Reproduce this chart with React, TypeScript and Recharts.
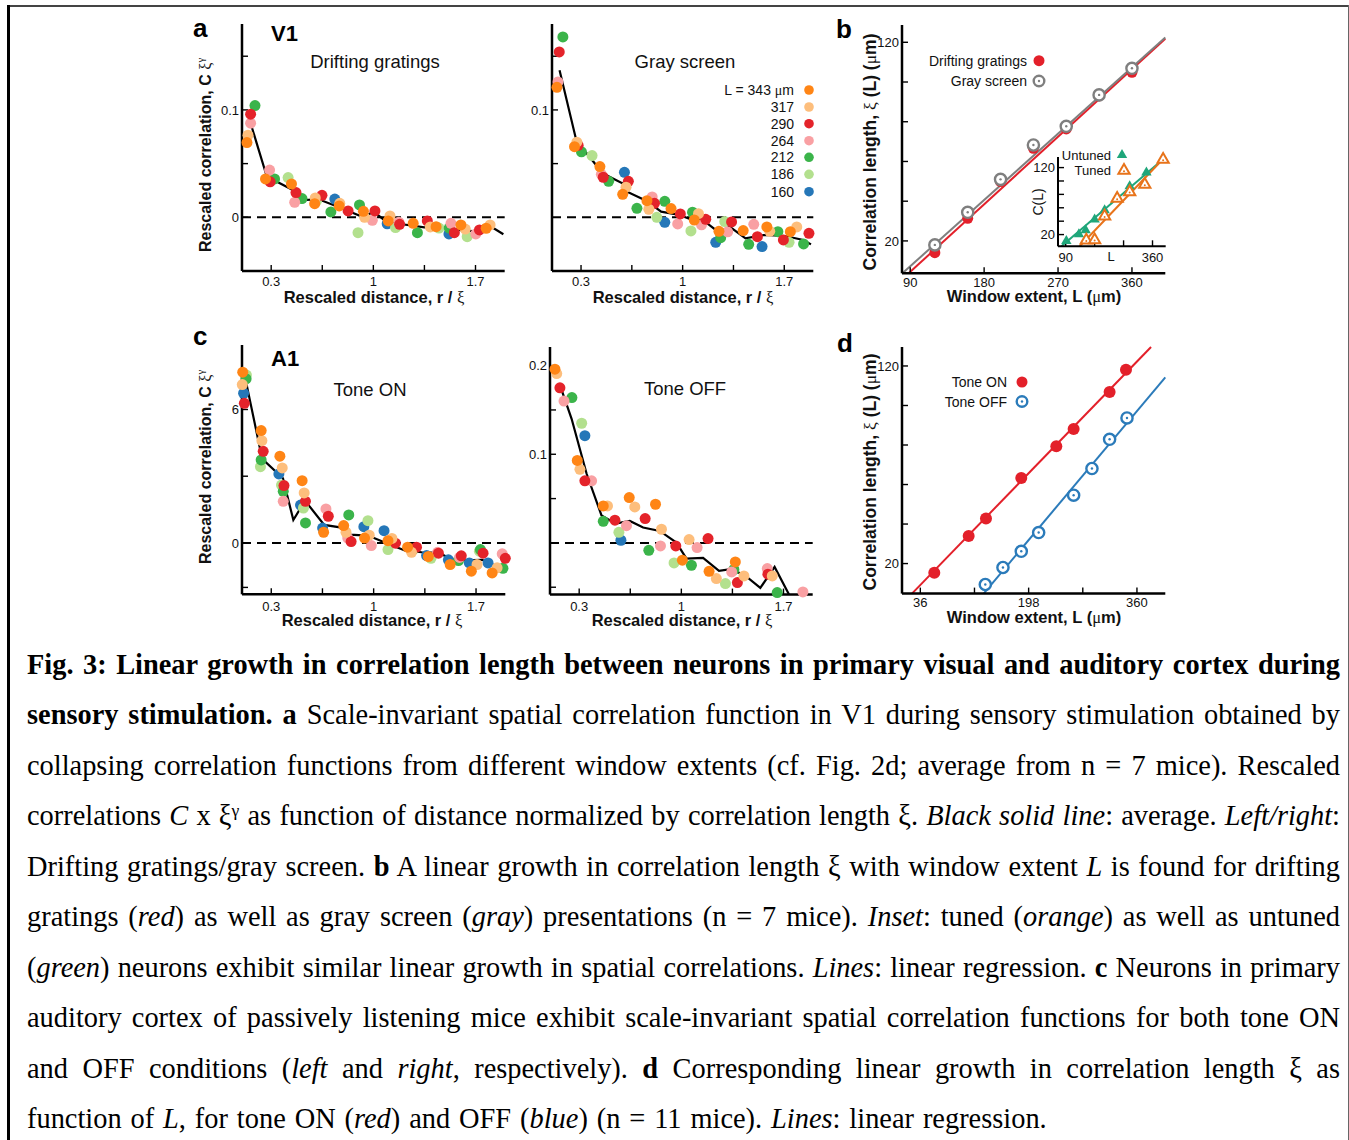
import React from 'react';
import { ComposedChart, Scatter, Line, XAxis, YAxis, ReferenceLine } from 'recharts';

type P = [number, number];

const FONT = '"Liberation Sans", Arial, Helvetica, sans-serif';
const SERIF = '"Liberation Serif", "Times New Roman", serif';

// ---- legend values (window extents) and colours ----
const L_LABELS = ['343', '317', '290', '264', '212', '186', '160'];
const L_COLORS = ['#FF8515', '#FDBE7C', '#E4232A', '#F9A0A3', '#3BB44A', '#B3E08E', '#2577B8'];

// ---- panel a, left: V1 drifting gratings ----
const A1_343: P[] = [[0.134,0.0696],[0.261,0.0357],[0.439,0.031],[0.598,0.0127],[0.766,0.0106],[0.932,0.0056],[1.102,-0.0034],[1.273,-0.0056],[1.43,-0.0087],[1.6,-0.0071],[1.773,-0.0102]];
const A1_317: P[] = [[0.141,0.0764],[0.602,0.018],[0.77,0.013],[0.94,0.0],[1.114,0.0012],[1.39,-0.009],[1.63,-0.011],[1.8,-0.0071]];
const A1_290: P[] = [[0.159,0.096],[0.293,0.033],[0.47,0.023],[0.648,0.0205],[0.827,0.0059],[1.011,0.0059],[1.18,-0.0065],[1.37,-0.0034],[1.555,-0.0143],[1.727,-0.0118]];
const A1_264: P[] = [[0.159,0.0876],[0.289,0.044],[0.461,0.014],[0.993,-0.0028],[1.175,-0.0045],[1.532,-0.0056],[1.702,-0.0155]];
const A1_212: P[] = [[0.189,0.104],[0.323,0.0357],[0.511,0.0174],[0.709,0.005],[0.905,0.0115],[1.302,-0.0143],[1.52,-0.01]];
const A1_186: P[] = [[0.416,0.037],[0.61,0.015],[0.895,-0.0143],[1.152,-0.0096],[1.45,-0.01],[1.643,-0.018]];
const A1_160: P[] = [[0.736,0.017],[1.095,-0.006],[1.518,-0.0155]];
const A1_MEAN: P[] = [[0.159,0.0876],[0.27,0.0379],[0.448,0.0255],[0.516,0.0161],[0.625,0.0168],[0.766,0.0093],[0.932,0],[1.002,0.0053],[1.095,-0.0047],[1.198,-0.0065],[1.35,-0.0093],[1.436,-0.0078],[1.539,-0.0112],[1.72,-0.0134],[1.8,-0.0081],[1.891,-0.0158]];

// ---- panel a, right: V1 gray screen ----
const A2_343: P[] = [[0.134,0.121],[0.255,0.0658],[0.43,0.0472],[0.587,0.0214],[0.754,0.0155],[0.92,0.0081],[1.08,-0.0025],[1.25,-0.013],[1.417,-0.0124],[1.58,-0.009],[1.742,-0.0134]];
const A2_317: P[] = [[0.271,0.07],[0.61,0.028],[0.767,0.0075],[1.109,0.0034],[1.6,-0.013],[1.786,-0.009]];
const A2_290: P[] = [[0.15,0.154],[0.28,0.067],[0.453,0.0373],[0.626,0.0335],[0.806,0.013],[0.984,0.0031],[1.159,-0.0019],[1.337,-0.0043],[1.515,-0.018],[1.694,-0.0211],[1.87,-0.0149]];
const A2_264: P[] = [[0.141,0.126],[0.44,0.04],[0.79,0.019],[0.966,-0.0062],[1.13,-0.007],[1.31,-0.0135],[1.49,-0.0065]];
const A2_212: P[] = [[0.175,0.168],[0.303,0.061],[0.49,0.0335],[0.685,0.0084],[0.877,0.0149],[1.068,0.0047],[1.262,-0.019],[1.455,-0.0252],[1.656,-0.0134],[1.833,-0.0248]];
const A2_186: P[] = [[0.376,0.0575],[0.822,0.0],[1.057,-0.0127],[1.29,-0.004],[1.733,-0.0233]];
const A2_160: P[] = [[0.599,0.0419],[0.877,-0.0047],[1.228,-0.0233],[1.547,-0.0273]];
const A2_MEAN: P[] = [[0.152,0.137],[0.275,0.0674],[0.339,0.0596],[0.449,0.041],[0.585,0.0317],[0.617,0.0239],[0.749,0.0155],[0.852,0.0053],[0.977,0.0022],[1.08,-0.0031],[1.125,-0.001],[1.25,-0.014],[1.323,-0.0087],[1.433,-0.0196],[1.558,-0.0165],[1.706,-0.0174],[1.831,-0.0211],[1.884,-0.0252]];

// ---- panel c, left: A1 tone ON ----
const C1_343: P[] = [[0.105,7.68],[0.231,5.05],[0.359,3.9],[0.511,2.8],[0.658,0.48],[0.795,0.78],[0.938,0.22],[1.098,0.1],[1.232,-0.19],[1.374,-0.61],[1.523,-0.97],[1.668,-1.27],[1.81,-1.35]];
const C1_317: P[] = [[0.102,7.12],[0.236,4.6],[0.375,3.37],[0.525,2.25],[0.811,0.48],[0.97,0.35],[1.125,0.2],[1.259,-0.42],[1.707,-0.97],[1.844,-1.12]];
const C1_290: P[] = [[0.116,6.28],[0.245,4.12],[0.387,2.58],[0.534,1.87],[0.69,1.2],[0.846,0.06],[1.149,-0.01],[1.293,-0.19],[1.443,-0.46],[1.599,-0.58],[1.748,-0.46],[1.9,-0.69]];
const C1_264: P[] = [[0.382,1.87],[0.674,1.53],[0.823,0.22],[0.984,-0.12],[1.437,-0.42],[1.587,-0.65],[1.879,-0.49]];
const C1_212: P[] = [[0.128,7.38],[0.231,3.73],[0.382,2.32],[0.534,0.9],[0.83,1.26],[1.27,-0.3],[1.58,-0.79],[1.73,-0.3],[1.884,-1.14]];
const C1_186: P[] = [[0.13,7.55],[0.226,3.43],[0.37,2.6],[0.52,1.57],[0.961,1.0],[1.098,-0.3],[1.392,-0.69],[1.723,-0.37]];
const C1_160: P[] = [[0.111,6.73],[0.352,3.1],[0.5,1.7],[0.651,0.67],[0.933,0.73],[1.071,0.55],[1.362,-0.57],[1.511,-0.76],[1.654,-0.9],[1.782,-0.9]];
const C1_MEAN: P[] = [[0.128,7.23],[0.238,3.78],[0.38,2.91],[0.451,1.03],[0.531,1.9],[0.662,0.81],[0.77,0.7],[0.834,0.37],[0.961,0.33],[1.098,-0.04],[1.213,-0.34],[1.328,-0.42],[1.443,-0.45],[1.557,-0.79],[1.741,-0.76],[1.856,-1.09],[1.9,-1.05]];

// ---- panel c, right: A1 tone OFF ----
const C2_343: P[] = [[0.134,0.196],[0.287,0.093],[0.465,0.0417],[0.643,0.0511],[0.823,0.0436],[1.007,-0.0195],[1.19,-0.032],[1.37,-0.0214]];
const C2_317: P[] = [[0.146,0.191],[0.305,0.083],[0.494,0.0417],[0.681,0.0406],[0.864,0.0154],[1.053,0.0038],[1.24,-0.0402],[1.429,-0.0372],[1.623,-0.0372]];
const C2_290: P[] = [[0.168,0.175],[0.339,0.07],[0.545,0.0256],[0.752,0.0274],[0.962,-0.0034],[1.183,0.0049],[1.384,-0.0447],[1.593,-0.0353]];
const C2_264: P[] = [[0.196,0.16],[0.385,0.07],[0.624,0.0195],[0.857,-0.0034],[1.108,-0.0053],[1.345,-0.0327],[1.589,-0.029],[1.833,-0.0553]];
const C2_212: P[] = [[0.25,0.164],[0.465,0.0244],[0.777,-0.0083],[1.069,-0.0252],[1.36,-0.03],[1.657,-0.056]];
const C2_186: P[] = [[0.317,0.135],[0.572,0.012],[0.95,-0.0226],[1.302,-0.0459]];
const C2_160: P[] = [[0.339,0.121],[0.586,0.003]];
const C2_MEAN: P[] = [[0.164,0.18],[0.248,0.14],[0.351,0.078],[0.453,0.031],[0.549,0.0218],[0.647,0.0248],[0.738,0.0173],[0.852,0.0135],[0.966,0.0004],[1.035,-0.0177],[1.149,-0.0169],[1.258,-0.0316],[1.338,-0.0297],[1.434,-0.0365],[1.541,-0.0508],[1.639,-0.0271],[1.737,-0.058]];

// ---- panel b: correlation length vs window extent (V1) ----
const B_L = [120, 160, 200, 240, 280, 320, 360];
const B_DRIFT = [14.1, 31.4, 49.9, 66.6, 76.4, 93.0, 104.9];
const B_GRAY = [18.0, 34.4, 51.0, 68.3, 77.7, 93.5, 106.9];
const B_FIT_DRIFT = { slope: 0.378, intercept: -29.6 };
const B_FIT_GRAY = { slope: 0.371, intercept: -26.16 };

// inset of b: untuned / tuned neurons
const INSET_UNTUNED: P[] = [[92,10.4],[131,20.4],[152,26.4],[180,42.4],[211,56.3],[250,75.2],[289,92.1],[341,112.5],[393,133.4]];
const INSET_TUNED: P[] = [[154,11.5],[180,12],[211,47.3],[250,73.7],[289,83.6],[336,94.6],[393,131.9]];
const INSET_FIT_UNTUNED = { slope: 0.411, intercept: -29.0 };
const INSET_FIT_TUNED = { slope: 0.503, intercept: -64.7 };

// ---- panel d: A1 ----
const D_ON: P[] = [[56.9,15.4],[108.3,34],[134.2,42.8],[187,63.3],[239.4,79.4],[265.3,88.1],[319.1,106.8],[343.6,118.1]];
const D_OFF: P[] = [[133.2,9.4],[159.6,18],[187,26.2],[213,35.7],[265.3,54.6],[292.7,68.1],[319.1,82.9],[345.1,93.7]];
const D_FIT_ON = { slope: 0.349, intercept: -3.4 };
const D_FIT_OFF = { slope: 0.403, intercept: -47.9 };

// ---- axis ticks ----
const X_TICKS_R = [0.3, 0.65, 1, 1.35, 1.7];
const X_LABELS_R: Record<string, string> = { '0.3': '0.3', '1': '1', '1.7': '1.7' };
const B_X_TICKS = [90, 180, 270, 360];
const D_X_TICKS = [36, 117, 198, 279, 360];
const XI_Y_TICKS = [20, 40, 60, 80, 100, 120];

const RED = '#E3202A';
const GRAY = '#7F7F7F';
const BLUE = '#2B7BBA';
const TEAL = '#1FA67A';
const ORANGE = '#E8731A';

type Mark = 'dot' | 'ring' | 'tri' | 'triOpen';
interface SeriesDef { name: string; data: P[]; color: string; mark: Mark; r: number }
interface LineDef { name: string; data: P[]; color: string; width: number }

function Marker({ cx, cy, mark, color, r }: { cx: number; cy: number; mark: Mark; color: string; r: number }) {
  if (cx == null || cy == null || isNaN(cx) || isNaN(cy)) return null;
  if (mark === 'dot') return <circle cx={cx} cy={cy} r={r} fill={color} />;
  if (mark === 'ring')
    return (
      <g>
        <circle cx={cx} cy={cy} r={r} fill="#fff" stroke={color} strokeWidth={2.4} />
        <circle cx={cx} cy={cy} r={1.2} fill={color} />
      </g>
    );
  const pts = `${cx},${cy - r} ${cx + r * 0.866},${cy + r * 0.5} ${cx - r * 0.866},${cy + r * 0.5}`;
  if (mark === 'tri') return <polygon points={pts} fill={color} />;
  return (
    <g>
      <polygon points={pts} fill="#fff" stroke={color} strokeWidth={2} strokeLinejoin="miter" />
      <circle cx={cx} cy={cy + r * 0.1} r={1} fill={color} />
    </g>
  );
}

const toPts = (d: P[]) => d.map(([x, y]) => ({ x, y }));
// regression line segment, cut to the plotting box
const clipFit = (f: { slope: number; intercept: number }, xd: [number, number], yd: [number, number]): P[] => {
  const m = f.slope, b = f.intercept;
  const x0 = Math.max(xd[0], (yd[0] - b) / m);
  const x1 = Math.min(xd[1], (yd[1] - b) / m);
  const cy = (x: number) => Math.min(yd[1], Math.max(yd[0], m * x + b));
  return [[x0, cy(x0)], [x1, cy(x1)]];
};
const zip = (xs: number[], ys: number[]): P[] => xs.map((x, i) => [x, ys[i]] as P);

interface PanelProps {
  x: number; y: number; w: number; h: number;
  xDomain: [number, number]; yDomain: [number, number];
  xTicks: number[]; yTicks: number[];
  xLabel: (v: number) => string; yLabel: (v: number) => string;
  series: SeriesDef[]; lines: LineDef[]; linesOnTop: boolean; zero?: boolean;
  axisWidth?: number; fontSize?: number; xTickMargin?: number;
}

function Panel(p: PanelProps) {
  const ML = 60, MT = 10, MR = 10, MB = 40;
  const fs = p.fontSize ?? 13;
  const aw = p.axisWidth ?? 2.5;
  const sc = p.series.map((s) => (
    <Scatter
      key={'s' + s.name}
      name={s.name}
      data={toPts(s.data)}
      fill={s.color}
      isAnimationActive={false}
      shape={(props: any) => <Marker cx={props.cx} cy={props.cy} mark={s.mark} color={s.color} r={s.r} />}
    />
  ));
  const ln = p.lines.map((l) => (
    <Line
      key={'l' + l.name}
      data={toPts(l.data)}
      dataKey="y"
      type="linear"
      stroke={l.color}
      strokeWidth={l.width}
      dot={false}
      activeDot={false}
      isAnimationActive={false}
    />
  ));
  return (
    <div style={{ position: 'absolute', left: p.x - ML, top: p.y - MT }}>
      <ComposedChart width={p.w + ML + MR} height={p.h + MT + MB} margin={{ top: MT, right: MR, left: 20, bottom: 10 }}>
        <XAxis
          type="number"
          dataKey="x"
          domain={p.xDomain}
          ticks={p.xTicks}
          interval={0}
          height={30}
          tickSize={-6}
          tickMargin={p.xTickMargin ?? 12}
          tickFormatter={p.xLabel}
          axisLine={{ stroke: '#000', strokeWidth: aw }}
          tickLine={{ stroke: '#000', strokeWidth: 1.4 }}
          tick={{ fill: '#111', fontSize: fs, fontFamily: FONT }}
        />
        <YAxis
          type="number"
          dataKey="y"
          domain={p.yDomain}
          ticks={p.yTicks}
          interval={0}
          width={40}
          tickSize={-6}
          tickMargin={9}
          tickFormatter={p.yLabel}
          axisLine={{ stroke: '#000', strokeWidth: aw }}
          tickLine={{ stroke: '#000', strokeWidth: 1.4 }}
          tick={{ fill: '#111', fontSize: fs, fontFamily: FONT }}
        />
        {p.zero && <ReferenceLine y={0} stroke="#000" strokeWidth={2} strokeDasharray="9 6" />}
        {p.linesOnTop ? [...sc, ...ln] : [...ln, ...sc]}
      </ComposedChart>
    </div>
  );
}

const rLabel = (v: number) => X_LABELS_R[String(v)] ?? '';
const only = (vals: number[]) => (v: number) => (vals.some((u) => Math.abs(u - v) < 1e-9) ? String(v) : '');

const mkSeries = (arrs: P[][]): SeriesDef[] =>
  arrs
    .map((d, i) => ({ name: L_LABELS[i], data: d, color: L_COLORS[i], mark: 'dot' as Mark, r: 5.5 }))
    .reverse();

// ---------- overlay text ----------
function Xi() {
  return <tspan fontFamily={SERIF} fontWeight="normal">ξ</tspan>;
}
function Mu() {
  return <tspan fontFamily={SERIF} fontWeight="normal">μ</tspan>;
}

function YTitleCorr({ x, y }: { x: number; y: number }) {
  return (
    <text transform={`translate(${x},${y}) rotate(-90)`} textAnchor="middle" fontFamily={FONT} fontWeight="bold" fontSize={16} fill="#111">
      Rescaled correlation, C <Xi />
      <tspan fontFamily={SERIF} fontWeight="normal" fontSize={10.5} dy={-7}>γ</tspan>
    </text>
  );
}
function YTitleXi({ x, y }: { x: number; y: number }) {
  return (
    <text transform={`translate(${x},${y}) rotate(-90)`} textAnchor="middle" fontFamily={FONT} fontWeight="bold" fontSize={17.5} fill="#111">
      Correlation length, <Xi /> (L) (<Mu />m)
    </text>
  );
}
function XTitleR({ x, y }: { x: number; y: number }) {
  return (
    <text x={x} y={y} textAnchor="middle" fontFamily={FONT} fontWeight="bold" fontSize={16.5} fill="#111">
      Rescaled distance, r / <Xi />
    </text>
  );
}
function XTitleL({ x, y }: { x: number; y: number }) {
  return (
    <text x={x} y={y} textAnchor="middle" fontFamily={FONT} fontWeight="bold" fontSize={16.5} fill="#111">
      Window extent, L (<Mu />m)
    </text>
  );
}

function Overlay() {
  const legendRows = [90, 107, 123.7, 140.7, 157.3, 174.3, 191.7];
  return (
    <svg width={1349} height={640} style={{ position: 'absolute', left: 0, top: 0, pointerEvents: 'none' }}>
      {/* panel letters */}
      {[['a', 193, 37], ['b', 836, 38], ['c', 193, 345], ['d', 837, 352]].map(([t, x, y]) => (
        <text key={t as string} x={x as number} y={y as number} fontFamily={FONT} fontWeight="bold" fontSize={26} fill="#000">{t}</text>
      ))}
      <text x={271} y={41} fontFamily={FONT} fontWeight="bold" fontSize={22} fill="#000">V1</text>
      <text x={271} y={366} fontFamily={FONT} fontWeight="bold" fontSize={22} fill="#000">A1</text>

      {/* titles */}
      <text x={375} y={68} textAnchor="middle" fontFamily={FONT} fontSize={18.5} fill="#111">Drifting gratings</text>
      <text x={685} y={68} textAnchor="middle" fontFamily={FONT} fontSize={18.5} fill="#111">Gray screen</text>
      <text x={370} y={396} textAnchor="middle" fontFamily={FONT} fontSize={18.5} fill="#111">Tone ON</text>
      <text x={685} y={395} textAnchor="middle" fontFamily={FONT} fontSize={18.5} fill="#111">Tone OFF</text>

      {/* axis titles */}
      <XTitleR x={374} y={303} />
      <XTitleR x={683} y={303} />
      <XTitleR x={372} y={626} />
      <XTitleR x={682} y={626} />
      <XTitleL x={1034} y={302} />
      <XTitleL x={1034} y={623} />
      <YTitleCorr x={210.5} y={155} />
      <YTitleCorr x={210.5} y={467} />
      <YTitleXi x={876} y={152} />
      <YTitleXi x={876} y={472} />
      <text transform="translate(1043,202) rotate(-90)" textAnchor="middle" fontFamily={FONT} fontSize={14} fill="#111">C(L)</text>
      <text x={1111} y={261} textAnchor="middle" fontFamily={FONT} fontSize={13} fill="#111">L</text>

      {/* legend of panel a (right) */}
      {L_LABELS.map((lab, i) => (
        <g key={lab}>
          <text x={794} y={legendRows[i] + 4.9} textAnchor="end" fontFamily={FONT} fontSize={14} fill="#111">
            {i === 0 ? <>L = {lab} <Mu />m</> : lab}
          </text>
          <circle cx={809} cy={legendRows[i]} r={4.8} fill={L_COLORS[i]} />
        </g>
      ))}

      {/* legend of panel b */}
      <text x={1027} y={65.5} textAnchor="end" fontFamily={FONT} fontSize={14} fill="#111">Drifting gratings</text>
      <Marker cx={1039} cy={60.7} mark="dot" color={RED} r={5.5} />
      <text x={1027} y={85.8} textAnchor="end" fontFamily={FONT} fontSize={14} fill="#111">Gray screen</text>
      <Marker cx={1039} cy={81} mark="ring" color={GRAY} r={5.3} />

      {/* inset legend */}
      <text x={1111} y={159.6} textAnchor="end" fontFamily={FONT} fontSize={13} fill="#111">Untuned</text>
      <Marker cx={1122} cy={155} mark="tri" color={TEAL} r={6} />
      <text x={1111} y={174.6} textAnchor="end" fontFamily={FONT} fontSize={13} fill="#111">Tuned</text>
      <Marker cx={1124} cy={170.5} mark="triOpen" color={ORANGE} r={6.5} />

      {/* legend of panel d */}
      <text x={1007} y={387} textAnchor="end" fontFamily={FONT} fontSize={14} fill="#111">Tone ON</text>
      <Marker cx={1022} cy={382} mark="dot" color={RED} r={5.5} />
      <text x={1007} y={406.5} textAnchor="end" fontFamily={FONT} fontSize={14} fill="#111">Tone OFF</text>
      <Marker cx={1022} cy={401.5} mark="ring" color={BLUE} r={5.3} />
    </svg>
  );
}

// ---------- caption ----------
const sup = (t: string) => (
  <span style={{ fontSize: '0.62em', position: 'relative', top: '-0.55em', lineHeight: 0 }}>{t}</span>
);
const CAPTION_LINES: React.ReactNode[] = [
  <b>Fig. 3: Linear growth in correlation length between neurons in primary visual and auditory cortex during</b>,
  <><b>sensory stimulation. a</b> Scale-invariant spatial correlation function in V1 during sensory stimulation obtained by</>,
  <>collapsing correlation functions from different window extents (cf. Fig. 2d; average from n = 7 mice). Rescaled</>,
  <>correlations <i>C</i> x ξ{sup('γ')} as function of distance normalized by correlation length ξ. <i>Black solid line</i>: average. <i>Left/right</i>:</>,
  <>Drifting gratings/gray screen. <b>b</b> A linear growth in correlation length ξ with window extent <i>L</i> is found for drifting</>,
  <>gratings (<i>red</i>) as well as gray screen (<i>gray</i>) presentations (n = 7 mice). <i>Inset</i>: tuned (<i>orange</i>) as well as untuned</>,
  <>(<i>green</i>) neurons exhibit similar linear growth in spatial correlations. <i>Lines</i>: linear regression. <b>c</b> Neurons in primary</>,
  <>auditory cortex of passively listening mice exhibit scale-invariant spatial correlation functions for both tone ON</>,
  <>and OFF conditions (<i>left</i> and <i>right</i>, respectively). <b>d</b> Corresponding linear growth in correlation length ξ as</>,
  <>function of <i>L</i>, for tone ON (<i>red</i>) and OFF (<i>blue</i>) (n = 11 mice). <i>Lines</i>: linear regression.</>,
];

function Caption() {
  const LH = 50.45;
  return (
    <>
      {CAPTION_LINES.map((ln, i) => {
        const last = i === CAPTION_LINES.length - 1;
        return (
          <div
            key={i}
            style={{
              position: 'absolute',
              left: 27,
              top: 640 + i * LH,
              width: 1313,
              height: LH,
              lineHeight: `${LH}px`,
              fontFamily: SERIF,
              fontSize: 28.4,
              color: '#000',
              whiteSpace: 'nowrap',
              wordSpacing: last ? 1.8 : undefined,
              textAlign: last ? 'left' : 'justify',
              textAlignLast: last ? 'left' : 'justify',
            } as React.CSSProperties}
          >
            {ln}
          </div>
        );
      })}
    </>
  );
}

export default function App() {
  const rDom: [number, number] = [0.1, 1.9];
  const bX: [number, number] = [80, 400.6];
  const bY: [number, number] = [3.7, 128.7];
  const dX: [number, number] = [8.6, 402.4];
  const dY: [number, number] = [4.8, 129.6];
  const inX: [number, number] = [66, 401];
  const inY: [number, number] = [2.5, 135.8];
  return (
    <div style={{ position: 'absolute', left: 0, top: 0, width: 1349, height: 1140, background: '#fff', overflow: 'hidden', fontFamily: FONT }}>
      {/* frame */}
      <div style={{ position: 'absolute', left: 7, top: 5, width: 1342, height: 2, background: '#444' }} />
      <div style={{ position: 'absolute', left: 7, top: 5, width: 2.5, height: 1135, background: '#000' }} />
      <div style={{ position: 'absolute', left: 1347.5, top: 5, width: 1, height: 1135, background: '#666' }} />

      <Panel
        x={242.3} y={24} w={262.7} h={247}
        xDomain={rDom} yDomain={[-0.05, 0.18]}
        xTicks={X_TICKS_R} yTicks={[0, 0.05, 0.1, 0.15]}
        xLabel={rLabel} yLabel={only([0, 0.1])}
        series={mkSeries([A1_343, A1_317, A1_290, A1_264, A1_212, A1_186, A1_160])}
        lines={[{ name: 'mean', data: A1_MEAN, color: '#000', width: 2.2 }]}
        linesOnTop zero
      />
      <Panel
        x={551.7} y={24} w={261.3} h={247}
        xDomain={rDom} yDomain={[-0.05, 0.18]}
        xTicks={X_TICKS_R} yTicks={[0.05, 0.1, 0.15]}
        xLabel={rLabel} yLabel={only([0.1])}
        series={mkSeries([A2_343, A2_317, A2_290, A2_264, A2_212, A2_186, A2_160])}
        lines={[{ name: 'mean', data: A2_MEAN, color: '#000', width: 2.2 }]}
        linesOnTop zero
      />
      <Panel
        x={901.7} y={25} w={263.3} h={248.3}
        xDomain={bX} yDomain={bY}
        xTicks={B_X_TICKS} yTicks={XI_Y_TICKS}
        xLabel={(v) => String(v)} yLabel={only([20, 120])}
        xTickMargin={10}
        series={[
          { name: 'drift', data: zip(B_L, B_DRIFT), color: RED, mark: 'dot', r: 5.5 },
          { name: 'gray', data: zip(B_L, B_GRAY), color: GRAY, mark: 'ring', r: 5.6 },
        ]}
        lines={[
          { name: 'fitDrift', data: clipFit(B_FIT_DRIFT, bX, bY), color: RED, width: 2 },
          { name: 'fitGray', data: clipFit(B_FIT_GRAY, bX, bY), color: GRAY, width: 2 },
        ]}
        linesOnTop={false}
      />
      <Panel
        x={1058.3} y={156.7} w={107.7} h={89.3}
        xDomain={inX} yDomain={inY}
        xTicks={B_X_TICKS} yTicks={XI_Y_TICKS}
        xLabel={only([90, 360])} yLabel={only([20, 120])}
        axisWidth={2}
        series={[
          { name: 'untuned', data: INSET_UNTUNED, color: TEAL, mark: 'tri', r: 6 },
          { name: 'tuned', data: INSET_TUNED, color: ORANGE, mark: 'triOpen', r: 6.5 },
        ]}
        lines={[
          { name: 'fitU', data: clipFit(INSET_FIT_UNTUNED, inX, inY), color: TEAL, width: 2 },
          { name: 'fitT', data: clipFit(INSET_FIT_TUNED, inX, inY), color: ORANGE, width: 2 },
        ]}
        linesOnTop={false}
      />
      <Panel
        x={241.7} y={345} w={263.3} h={249.3}
        xDomain={rDom} yDomain={[-2.31, 8.9]}
        xTicks={X_TICKS_R} yTicks={[-2, 0, 3, 6]}
        xLabel={rLabel} yLabel={only([0, 6])}
        xTickMargin={13}
        series={mkSeries([C1_343, C1_317, C1_290, C1_264, C1_212, C1_186, C1_160])}
        lines={[{ name: 'mean', data: C1_MEAN, color: '#000', width: 2.2 }]}
        linesOnTop zero
      />
      <Panel
        x={550} y={346.7} w={262.7} h={247.6}
        xDomain={rDom} yDomain={[-0.0583, 0.221]}
        xTicks={X_TICKS_R} yTicks={[-0.05, 0.05, 0.1, 0.15, 0.2]}
        xLabel={rLabel} yLabel={only([0.1, 0.2])}
        xTickMargin={13}
        series={mkSeries([C2_343, C2_317, C2_290, C2_264, C2_212, C2_186, C2_160])}
        lines={[{ name: 'mean', data: C2_MEAN, color: '#000', width: 2.2 }]}
        linesOnTop zero
      />
      <Panel
        x={901.7} y={346.7} w={263.3} h={246.6}
        xDomain={dX} yDomain={dY}
        xTicks={D_X_TICKS} yTicks={XI_Y_TICKS}
        xLabel={only([36, 198, 360])} yLabel={only([20, 120])}
        xTickMargin={10}
        series={[
          { name: 'on', data: D_ON, color: RED, mark: 'dot', r: 6 },
          { name: 'off', data: D_OFF, color: BLUE, mark: 'ring', r: 5.6 },
        ]}
        lines={[
          { name: 'fitOn', data: clipFit(D_FIT_ON, dX, dY), color: RED, width: 2 },
          { name: 'fitOff', data: clipFit(D_FIT_OFF, dX, dY), color: BLUE, width: 2 },
        ]}
        linesOnTop={false}
      />
      <Overlay />
      <Caption />
    </div>
  );
}
